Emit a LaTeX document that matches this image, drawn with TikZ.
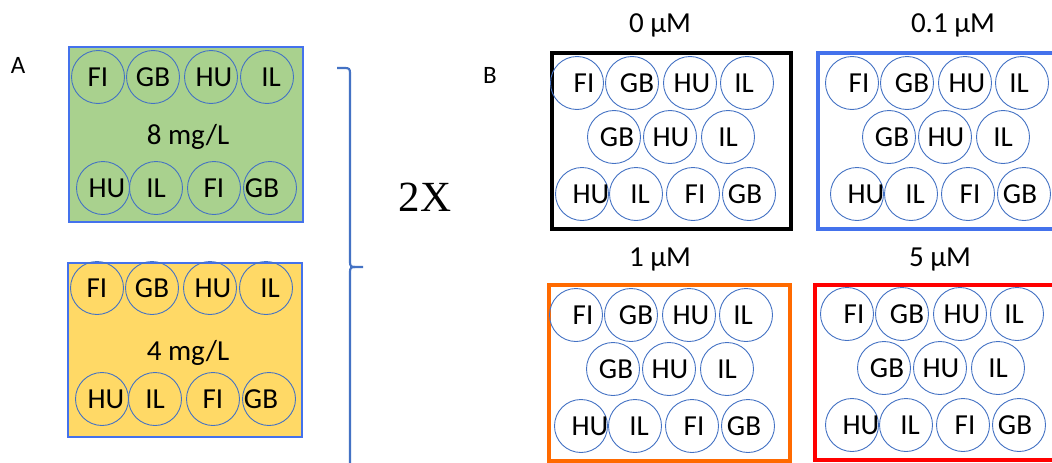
\documentclass[tikz,border=0pt]{standalone}
\usepackage{fontspec}
\setmainfont{Carlito}
\newfontfamily\serifx{Liberation Serif}
\definecolor{wellblue}{HTML}{4472C4}
\definecolor{boxblue}{HTML}{4472EC}
\definecolor{agreen}{HTML}{A9D18E}
\definecolor{ayellow}{HTML}{FFD966}
\definecolor{borange}{HTML}{FF6A00}
\definecolor{bred}{HTML}{FF0000}
\tikzset{
  well/.style={circle,draw=wellblue,line width=0.9pt,minimum size=53pt,inner sep=0pt},
  welltext/.style={font=\fontsize{29}{29}\selectfont,inner sep=0pt,text depth=0pt},
  lbl/.style={font=\fontsize{29}{29}\selectfont,inner sep=0pt,text depth=0pt},
  letter/.style={font=\fontsize{25}{25}\selectfont,inner sep=0pt,text depth=0pt},
  platea/.style={draw=boxblue,line width=2pt},
  plateb/.style={line width=4pt},
}
\newcommand{\wellplateB}[3]{%
  \foreach \dx/\dy/\tx/\lab/\n in {0/0/7/FI/1,55/0/5/GB/2,113/0/2/HU/3,170/0/-3/IL/4,37/54/3/GB/5,93/54/1/HU/6,151/54/0/IL/7,5/111/9/HU/8,59/111/4/IL/9,116/111/2/FI/10,172/111/-4/GB/11}{
    \node[well] (#1w\n) at (#2+\dx,#3+\dy) {};
    \node[welltext] (#1t\n) at (#2+\dx+\tx,#3+\dy) {\lab};
  }}
\newcommand{\wellplateA}[3]{%
  \foreach \dx/\dy/\tx/\lab/\n in {0/0/0/FI/1,55/0/0/GB/2,113/0/3/HU/3,169/0/4/IL/4,5/111/4/HU/5,58/111/0/IL/6,116/111/0/FI/7,172/111/-8/GB/8}{
    \node[well] (#1w\n) at (#2+\dx,#3+\dy) {};
    \node[welltext] (#1t\n) at (#2+\dx+\tx,#3+\dy) {\lab};
  }}
\begin{document}
\begin{tikzpicture}[x=1pt,y=-1pt]
\clip (0,0) rectangle (1052,463);
\fill[white] (0,0) rectangle (1052,463);
% Panel A
\node[letter] (labA) at (18,65) {A};
\draw[platea,fill=agreen] (69,47) rectangle (303,222);
\wellplateA{g}{98}{77}
\node[lbl] (gconc) at (188,134) {8 mg/L};
\draw[platea,fill=ayellow] (68,263) rectangle (302,437);
\wellplateA{y}{97}{288}
\node[lbl] (yconc) at (188,350) {4 mg/L};
% brace
\draw[wellblue,line width=2.2pt]
  (337,68) -- (345,68) .. controls (349,68) and (350,69) .. (350,73)
  -- (350,262) .. controls (350,266) and (351,267) .. (355,267) -- (363,267);
\draw[wellblue,line width=2.2pt]
  (355,267) .. controls (351,267) and (350,268) .. (350,272) -- (350,470);
\node[font=\serifx\fontsize{43}{43}\selectfont,inner sep=0pt,text depth=0pt] (twox) at (425,197) {2X};
% Panel B
\node[letter] (labB) at (490,75) {B};
\node[lbl] (c0) at (660,23) {0 µM};
\node[lbl] (c01) at (953,23) {0.1 µM};
\node[lbl] (c1) at (660,257) {1 µM};
\node[lbl] (c5) at (940,257) {5 µM};
\draw[plateb,draw=black] (552,53) rectangle (791,229);
\draw[plateb,draw=boxblue] (818,53) rectangle (1075,229);
\draw[plateb,draw=borange] (549,285) rectangle (790,461);
\draw[plateb,draw=bred] (815,285) rectangle (1075,460);
\wellplateB{k}{577}{83}
\wellplateB{b}{852}{83}
\wellplateB{o}{576}{315}
\wellplateB{r}{847}{314}
\end{tikzpicture}
\end{document}
